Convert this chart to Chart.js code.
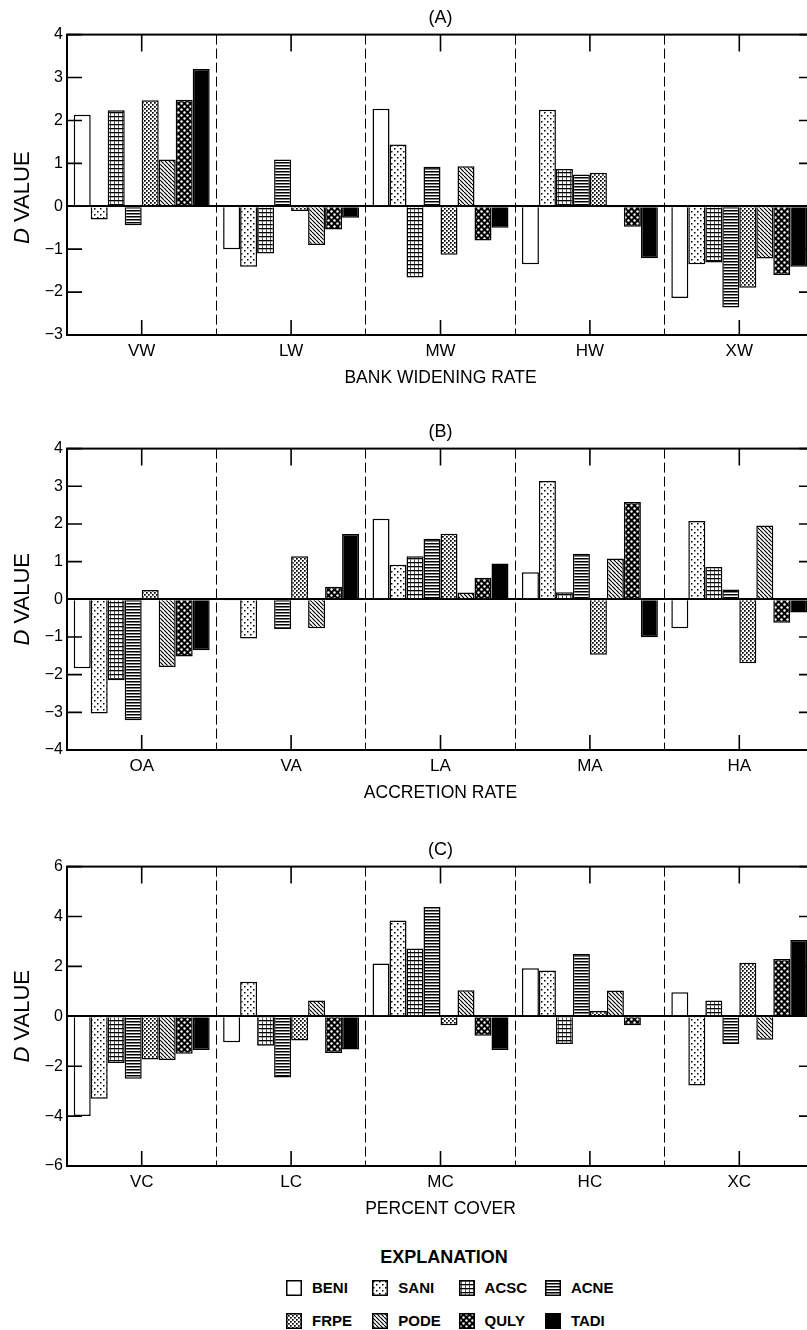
<!DOCTYPE html>
<html><head><meta charset="utf-8">
<script src="https://cdn.jsdelivr.net/npm/chart.js"></script>
<style>
html,body{margin:0;padding:0;background:#fff;}
#wrap{position:relative;width:807px;height:1330px;overflow:hidden;background:#fff;}
canvas.panel{position:absolute;left:0;}
.lab{position:absolute;font-family:'Liberation Sans',Arial,sans-serif;color:#000;font-weight:bold;white-space:nowrap;}
</style></head><body>
<div id="wrap">
<canvas id="cA" class="panel" width="830" height="393" style="top:0px;width:830px;height:393px"></canvas>
<canvas id="cB" class="panel" width="830" height="394" style="top:414px;width:830px;height:394px"></canvas>
<canvas id="cC" class="panel" width="830" height="392" style="top:832px;width:830px;height:392px"></canvas>
<div id="expl" class="lab" style="left:344px;width:200px;text-align:center;top:1246px;font-size:18px;line-height:22px;">EXPLANATION</div>
<div id="legend"></div>
</div>
<script>
// ---------- DATA ----------
const SERIES = ['BENI','SANI','ACSC','ACNE','FRPE','PODE','QULY','TADI'];

const CAT_A = ['VW','LW','MW','HW','XW'];
const TICKS_A = [-3,-2,-1,0,1,2,3,4];
const A_BENI = [2.13, -1.00, 2.27, -1.35, -2.14];
const A_SANI = [-0.31, -1.41, 1.44, 2.25, -1.35];
const A_ACSC = [2.24, -1.10, -1.66, 0.87, -1.31];
const A_ACNE = [-0.44, 1.09, 0.92, 0.74, -2.36];
const A_FRPE = [2.47, -0.11, -1.13, 0.78, -1.90];
const A_PODE = [1.09, -0.90, 0.93, -0.02, -1.22];
const A_QULY = [2.48, -0.54, -0.80, -0.48, -1.60];
const A_TADI = [3.20, -0.27, -0.50, -1.21, -1.41];

const CAT_B = ['OA','VA','LA','MA','HA'];
const TICKS_B = [-4,-3,-2,-1,0,1,2,3,4];
const B_BENI = [-1.83, -0.03, 2.14, 0.72, -0.77];
const B_SANI = [-3.03, -1.04, 0.92, 3.14, 2.08];
const B_ACSC = [-2.15, 0.03, 1.14, 0.19, 0.86];
const B_ACNE = [-3.21, -0.79, 1.61, 1.21, 0.26];
const B_FRPE = [0.25, 1.14, 1.74, -1.47, -1.70];
const B_PODE = [-1.80, -0.77, 0.18, 1.08, 1.96];
const B_QULY = [-1.52, 0.33, 0.57, 2.58, -0.62];
const B_TADI = [-1.35, 1.73, 0.95, -1.01, -0.35];

const CAT_C = ['VC','LC','MC','HC','XC'];
const TICKS_C = [-6,-4,-2,0,2,4,6];
const C_BENI = [-4.00, -1.04, 2.12, 1.93, 0.96];
const C_SANI = [-3.30, 1.38, 3.84, 1.84, -2.77];
const C_ACSC = [-1.87, -1.18, 2.72, -1.11, 0.63];
const C_ACNE = [-2.50, -2.45, 4.38, 2.50, -1.11];
const C_FRPE = [-1.73, -0.97, -0.36, 0.21, 2.15];
const C_PODE = [-1.75, 0.63, 1.04, 1.03, -0.94];
const C_QULY = [-1.50, -1.47, -0.78, -0.36, 2.30];
const C_TADI = [-1.35, -1.33, -1.35, 0.00, 3.06];

// ---------- STYLE ----------
const FONT = "'Liberation Sans', Arial, Helvetica, sans-serif";

function tile(w, h, draw){
  const c = document.createElement('canvas'); c.width = w; c.height = h;
  const g = c.getContext('2d'); draw(g, w, h);
  return g.createPattern(c, 'repeat');
}
const FILLS = {
  BENI: '#ffffff',
  SANI: tile(6,6,(g)=>{g.fillStyle='#fff';g.fillRect(0,0,6,6);g.fillStyle='#000';g.fillRect(1,1,1.5,1.5);g.fillRect(4,4,1.5,1.5);}),
  ACSC: tile(4,4,(g)=>{g.fillStyle='#fff';g.fillRect(0,0,4,4);g.fillStyle='#000';g.fillRect(0,0,4,1.3);g.fillStyle='#444';g.fillRect(2,1,0.9,3);}),
  ACNE: tile(3,3,(g)=>{g.fillStyle='#fff';g.fillRect(0,0,3,3);g.fillStyle='#000';g.fillRect(0,0,3,1.5);}),
  FRPE: tile(4,4,(g)=>{g.fillStyle='#fff';g.fillRect(0,0,4,4);g.fillStyle='#000';g.fillRect(0,0,1.7,1.7);g.fillRect(2,2,1.7,1.7);}),
  PODE: tile(4,4,(g)=>{g.fillStyle='#fff';g.fillRect(0,0,4,4);g.strokeStyle='#000';g.lineWidth=1.2;g.beginPath();
          for(const o of [-4,0,4]){g.moveTo(o,0);g.lineTo(o+4,4);} g.stroke();}),
  QULY: tile(6,6,(g)=>{g.fillStyle='#000';g.fillRect(0,0,6,6);g.fillStyle='#fff';g.beginPath();g.arc(1.5,1.5,1.2,0,7);g.fill();g.beginPath();g.arc(4.5,4.5,1.2,0,7);g.fill();}),
  TADI: '#000000'
};

const framePlugin = {
  id: 'frame',
  afterDraw(chart, args, opts){
    const {ctx, chartArea:{left,right,top,bottom}, scales:{x,y}} = chart;
    ctx.save();
    ctx.strokeStyle = '#000';
    ctx.lineWidth = 2;
    ctx.strokeRect(left, top, right-left, bottom-top);
    ctx.lineWidth = 1.6;
    ctx.beginPath();
    chart.data.labels.forEach((l,i)=>{
      const px = x.getPixelForValue(i);
      ctx.moveTo(px, top); ctx.lineTo(px, top+17);
      ctx.moveTo(px, bottom); ctx.lineTo(px, bottom-15);
    });
    y.ticks.forEach(t=>{
      const py = y.getPixelForValue(t.value);
      ctx.moveTo(left, py); ctx.lineTo(left+15, py);
      ctx.moveTo(right, py); ctx.lineTo(right-15, py);
    });
    ctx.stroke();
    // y axis title with italic D
    const cy = y.getPixelForValue(opts.titleAt || 0);
    ctx.translate(23, cy);
    ctx.rotate(-Math.PI/2);
    ctx.fillStyle = '#000';
    ctx.textBaseline = 'middle';
    ctx.textAlign = 'left';
    ctx.font = 'italic 22px ' + FONT;
    const w1 = ctx.measureText('D').width;
    ctx.font = '22px ' + FONT;
    const w2 = ctx.measureText(' VALUE').width;
    const sx = -(w1 + w2) / 2;
    ctx.font = 'italic 22px ' + FONT;
    ctx.fillText('D', sx, 0);
    ctx.font = '22px ' + FONT;
    ctx.fillText(' VALUE', sx + w1, 0);
    ctx.restore();
  }
};

function build(id, cats, values, ticks, title, xTitle, titleAt){
  return new Chart(document.getElementById(id), {
    type: 'bar',
    data: {
      labels: cats,
      datasets: SERIES.map((n,i)=>({
        label: n, data: values[i],
        backgroundColor: FILLS[n], borderColor: '#000', borderWidth: 1.5,
        categoryPercentage: 0.91, barPercentage: 1.0
      }))
    },
    plugins: [framePlugin],
    options: {
      responsive: false, animation: false, devicePixelRatio: 1,
      layout: {padding: {left: 0, right: 16, top: 0, bottom: 0}},
      plugins: {
        legend: {display: false},
        tooltip: {enabled: false},
        title: {display: true, text: title, fullSize: false, color: '#000',
                font: {family: FONT, size: 18, weight: 'normal'}, padding: {top: 7, bottom: 6}},
        frame: {titleAt: titleAt}
      },
      scales: {
        x: {
          type: 'category', offset: true,
          grid: {offset: true, display: true, drawOnChartArea: true, drawTicks: false, color: '#000', lineWidth: 1},
          border: {display: false, dash: [10,4]},
          ticks: {color: '#000', font: {family: FONT, size: 17}, padding: 6, maxRotation: 0, autoSkip: false},
          title: {display: true, text: xTitle, color: '#000', font: {family: FONT, size: 17.5}, padding: {top: 4, bottom: 4}},
          afterFit(s){ s.height = 58; }
        },
        y: {
          min: ticks[0], max: ticks[ticks.length-1],
          afterBuildTicks(s){ s.ticks = ticks.map(v=>({value: v})); },
          grid: {drawTicks: false,
                 color: c => (c.tick && c.tick.value === 0) ? '#000' : 'rgba(0,0,0,0)',
                 lineWidth: c => (c.tick && c.tick.value === 0) ? 2 : 0},
          border: {display: false},
          ticks: {color: '#000', font: {family: FONT, size: 16}, padding: 4,
                  callback: v => String(v).replace('-', '\u2212')},
          afterFit(s){ s.width = 67; }
        }
      }
    }
  });
}

build('cA', CAT_A, [A_BENI,A_SANI,A_ACSC,A_ACNE,A_FRPE,A_PODE,A_QULY,A_TADI], TICKS_A, '(A)', 'BANK WIDENING RATE', 0.2);
build('cB', CAT_B, [B_BENI,B_SANI,B_ACSC,B_ACNE,B_FRPE,B_PODE,B_QULY,B_TADI], TICKS_B, '(B)', 'ACCRETION RATE', 0);
build('cC', CAT_C, [C_BENI,C_SANI,C_ACSC,C_ACNE,C_FRPE,C_PODE,C_QULY,C_TADI], TICKS_C, '(C)', 'PERCENT COVER', 0);

// ---------- LEGEND ----------
const legend = document.getElementById('legend');
SERIES.forEach((name, i) => {
  const col = i % 4, row = Math.floor(i / 4);
  const x = 286 + col * 86.3;
  const y = row ? 1313 : 1280;
  const sw = document.createElement('canvas');
  sw.width = 16; sw.height = 16;
  sw.style.cssText = `position:absolute;left:${x}px;top:${y}px;width:16px;height:16px;`;
  const g = sw.getContext('2d');
  g.fillStyle = FILLS[name]; g.fillRect(0,0,16,16);
  g.strokeStyle = '#000'; g.lineWidth = 1.5; g.strokeRect(0.75,0.75,14.5,14.5);
  legend.appendChild(sw);
  const t = document.createElement('div');
  t.className = 'lab';
  t.textContent = name;
  t.style.cssText += `left:${x+26}px;top:${y-1}px;font-size:15px;line-height:18px;`;
  legend.appendChild(t);
});
</script>
</body></html>
